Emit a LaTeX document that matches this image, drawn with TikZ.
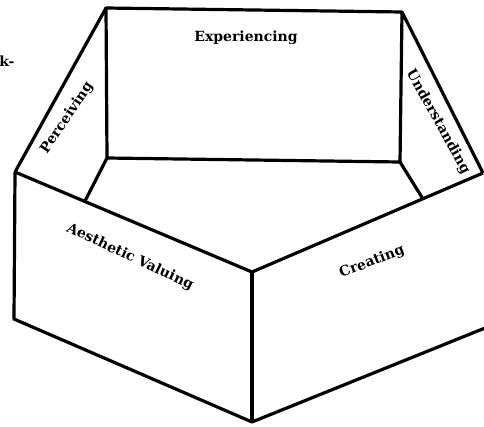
\documentclass[tikz,border=0pt]{standalone}
\usepackage{fontspec}
\newfontfamily\panelfont{DejaVu Serif}
\begin{document}
\begin{tikzpicture}[x=1pt,y=-1pt,line width=3.2pt,line join=round,
  panel label/.style={font=\panelfont\bfseries\fontsize{14}{14}\selectfont,inner sep=0pt}]
\clip (0,0) rectangle (484,426);
% back wall
\coordinate (backTL) at (106,8);
\coordinate (backTR) at (402,12);
\coordinate (backBL) at (107,158);
\coordinate (backBR) at (400,162);
% side walls and front
\coordinate (leftOut) at (15,172);
\coordinate (leftIn) at (85,201);
\coordinate (rightOut) at (483,173);
\coordinate (rightIn) at (423,199);
\coordinate (frontTop) at (252,272);
\coordinate (frontBot) at (252,422);
\coordinate (leftBot) at (14,319);
\coordinate (rightBot) at (490,326);
\draw (backTL) -- (backTR) -- (backBR) -- (backBL) -- cycle;
%% the side panels
\draw (backBL) -- (leftIn);
\draw (backTL) -- (leftOut);
\draw (backBR) -- (rightIn);
\draw (backTR) -- (rightOut);
%% the front
\draw (leftOut) -- (frontTop) -- (rightOut);
\draw (leftOut) -- (leftBot) -- (frontBot) -- (rightBot);
\draw (frontTop) -- (frontBot);
%% the labels
\node[panel label] (exp) at (246,38) {Experiencing};
\node[panel label,rotate=56] (perc) at (67,118) {Perceiving};
\node[panel label,rotate=-61] (und) at (438,122) {Understanding};
\node[panel label,rotate=-25] (aes) at (130,257) {Aesthetic Valuing};
\node[panel label,rotate=21] (cre) at (372,262) {Creating};
\node[panel label,anchor=east] (frag) at (16,61) {k-};
\end{tikzpicture}
\end{document}
